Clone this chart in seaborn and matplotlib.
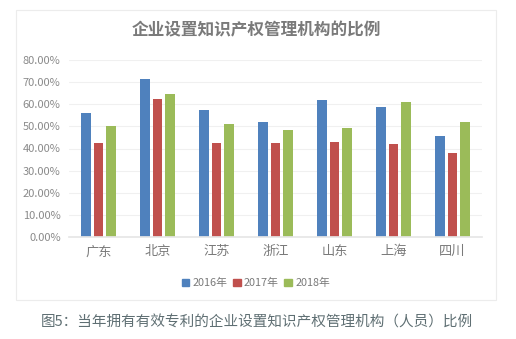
import matplotlib
matplotlib.use("Agg")
import matplotlib.pyplot as plt
import seaborn as sns
import pandas as pd
from matplotlib.patches import Rectangle
from matplotlib.ticker import FuncFormatter

categories = ["广东", "北京", "江苏", "浙江", "山东", "上海", "四川"]
years = ["2016年", "2017年", "2018年"]
v2016 = [56.1, 71.5, 57.5, 52.0, 62.0, 58.8, 45.7]
v2017 = [42.5, 62.4, 42.5, 42.5, 43.0, 42.0, 38.0]
v2018 = [50.2, 64.7, 51.1, 48.4, 49.3, 61.0, 52.0]
yticks = [0, 10, 20, 30, 40, 50, 60, 70, 80]
colors = ["#4F81BD", "#C0504D", "#9BBB59"]

rows = []
for yr, vals in zip(years, [v2016, v2017, v2018]):
    for c, v in zip(categories, vals):
        rows.append({"省份": c, "年份": yr, "比例": v})
df = pd.DataFrame(rows)

sns.set_theme(style="white")
plt.rcParams["font.family"] = ["Noto Sans CJK SC", "DejaVu Sans"]

fig = plt.figure(figsize=(5.16, 3.39), dpi=100)
fig.patch.set_facecolor("white")
# chart frame
fig.patches.append(Rectangle((16/516, 1-300/339), 480/516, 290/339,
                             transform=fig.transFigure, fill=False,
                             edgecolor="#ececec", linewidth=0.8))

ax = fig.add_axes([69/516, 1-237/339, 413/516, 177/339])
sns.barplot(data=df, x="省份", y="比例", hue="年份", palette=colors,
            width=0.66, ax=ax, legend=False, saturation=1)
for p in ax.patches:
    w = p.get_width()
    nw = w * 10/13
    p.set_x(p.get_x() + (w - nw)/2)
    p.set_width(nw)
    p.set_edgecolor("none")

ax.set_ylim(0, 80)
ax.set_xlim(-0.5, len(categories)-0.5)
ax.set_yticks(yticks)
ax.yaxis.set_major_formatter(FuncFormatter(lambda v, _: f"{v:.2f}%"))
ax.grid(axis="y", color="#f0f0f0", linewidth=0.8)
ax.set_axisbelow(True)
for s in ["top", "right", "left"]:
    ax.spines[s].set_visible(False)
ax.spines["bottom"].set_color("#e6e6e6")
ax.tick_params(axis="y", labelsize=8, colors="#8a8a8a", length=0, pad=6)
ax.tick_params(axis="x", labelsize=9.5, colors="#7a7a7a", length=0, pad=6)
ax.set_xlabel("")
ax.set_ylabel("")

fig.text(256/516, 1-30/339, "企业设置知识产权管理机构的比例", ha="center", va="center",
         fontsize=12, color="#7a7a7a", fontweight="bold")

# legend
handles = [Rectangle((0, 0), 1, 1, color=c) for c in colors]
fig.legend(handles, years, loc="center", bbox_to_anchor=(256/516, 1-283/339),
           ncol=3, frameon=False, fontsize=7.8, handlelength=0.7, handleheight=0.7,
           handletextpad=0.3, columnspacing=0.5, labelcolor="#7a7a7a")

fig.text(257/516, 1-323/339, "图5：当年拥有有效专利的企业设置知识产权管理机构（人员）比例",
         ha="center", va="center", fontsize=10.5, color="#5f6f73")

fig.savefig("out.png", dpi=100, facecolor="white")
